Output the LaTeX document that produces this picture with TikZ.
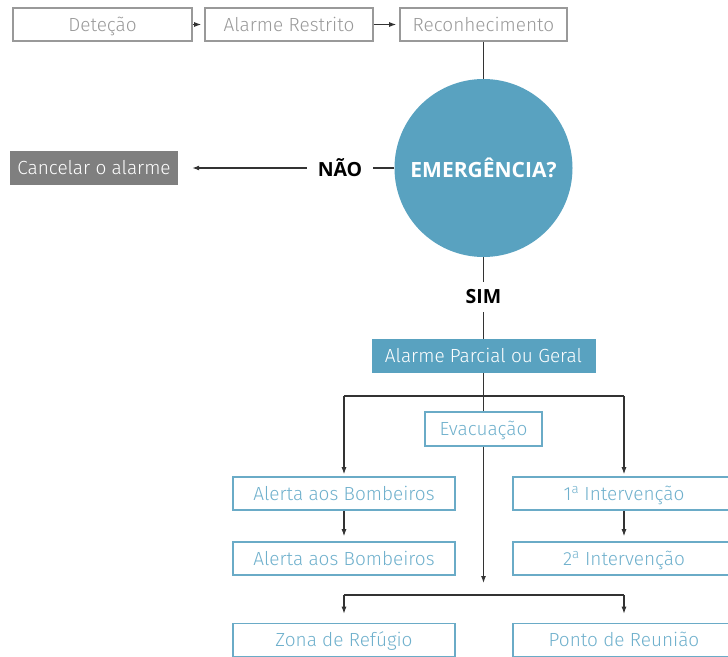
\documentclass[tikz,border=0pt]{standalone}
\usepackage{fontspec}
\setmainfont{Open Sans}
\newfontfamily\lightfont{Fira Sans Light}
\usetikzlibrary{arrows.meta}
\definecolor{bluefill}{HTML}{59A2C0}
\definecolor{blueline}{HTML}{6AABC7}
\definecolor{bluetext}{HTML}{6FB0CC}
\definecolor{grayline}{HTML}{999999}
\definecolor{graytext}{HTML}{999999}
\definecolor{grayfill}{HTML}{7F7F7F}
\definecolor{conn}{HTML}{333333}
\begin{document}
\begin{tikzpicture}[x=1pt,y=-1pt,
  boxtext/.style={font=\lightfont\fontsize{19}{21}\selectfont, text height=13pt, text depth=0pt},
  graybox/.style={boxtext, draw=grayline, line width=1.6pt, text=graytext, minimum height=33pt, inner sep=0pt},
  bluebox/.style={boxtext, draw=blueline, line width=1.6pt, text=bluetext, minimum height=33pt, minimum width=222pt, inner sep=0pt},
  fillbox/.style={boxtext, text=white, minimum height=34pt, inner sep=0pt},
  lbl/.style={font=\bfseries\fontsize{19.5}{21}\selectfont, text=black, inner sep=0pt},
  link/.style={draw=conn, line width=1.1pt},
  arr/.style={link, -{Latex[length=7pt,width=5pt]}}
]
\useasboundingbox (0,0) rectangle (728,656);
\clip (0,0) rectangle (728,656);

% top row
\node[graybox, minimum width=179pt] (det) at (102.5,24.5) {Deteção};
\node[graybox, minimum width=168pt] (alr) at (289,24.5) {Alarme Restrito};
\node[graybox, minimum width=167pt] (rec) at (483.5,24.5) {Reconhecimento};
\draw[arr, shorten >=3pt] (det.east) -- (alr.west);
\draw[arr, shorten >=3pt] (alr.east) -- (rec.west);

% decision
\node[circle, fill=bluefill, minimum size=178pt, inner sep=0pt, text=white,
      font=\bfseries\fontsize{21}{23}\selectfont] (emg) at (483.5,168) {EMERGÊNCIA?};
\draw[link] (rec.south) -- (emg.north);

\node[lbl, inner xsep=11pt] (nao) at (340,168) {NÃO};
\node[fillbox, fill=grayfill, minimum width=168pt] (can) at (94,168) {Cancelar o alarme};
\draw[link] (emg.west) -- (nao.east);
\draw[arr, shorten >=14pt] (nao.west) -- (can.east);

\node[lbl, inner ysep=8pt] (sim) at (483.5,297) {SIM};
\draw[link] (emg.south) -- (sim.north);

\node[fillbox, fill=bluefill, minimum width=224pt] (apg) at (483.5,356) {Alarme Parcial ou Geral};
\draw[link] (sim.south) -- (apg.north);

\node[bluebox, minimum width=117pt, minimum height=34pt] (eva) at (483.5,429) {Evacuação};
\draw[link] (apg.south) -- (eva.north);

% branches
\coordinate (bl) at (344,396);
\coordinate (br) at (624,396);
\draw[link] (bl) -- (br);

\node[bluebox] (ab1) at (344,493.5) {Alerta aos Bombeiros};
\node[bluebox] (ab2) at (344,558.5) {Alerta aos Bombeiros};
\node[bluebox] (in1) at (624,493.5) {1\textsuperscript{a} Intervenção};
\node[bluebox] (in2) at (624,558.5) {2\textsuperscript{a} Intervenção};
\draw[arr, shorten >=2pt] (bl) -- (ab1.north);
\draw[arr, shorten >=2pt] (br) -- (in1.north);
\draw[arr, shorten >=5pt] (ab1.south) -- (ab2.north);
\draw[arr, shorten >=5pt] (in1.south) -- (in2.north);

\coordinate (mid) at (483.5,583);
\draw[arr] (eva.south) -- (mid);

\coordinate (cl) at (344,595);
\coordinate (cr) at (624,595);
\node[bluebox] (zon) at (344,640) {Zona de Refúgio};
\node[bluebox] (pon) at (624,640) {Ponto de Reunião};
\draw[link] (cl) -- (cr);
\draw[arr, shorten >=9pt] (cl) -- (zon.north);
\draw[arr, shorten >=9pt] (cr) -- (pon.north);
\end{tikzpicture}
\end{document}
